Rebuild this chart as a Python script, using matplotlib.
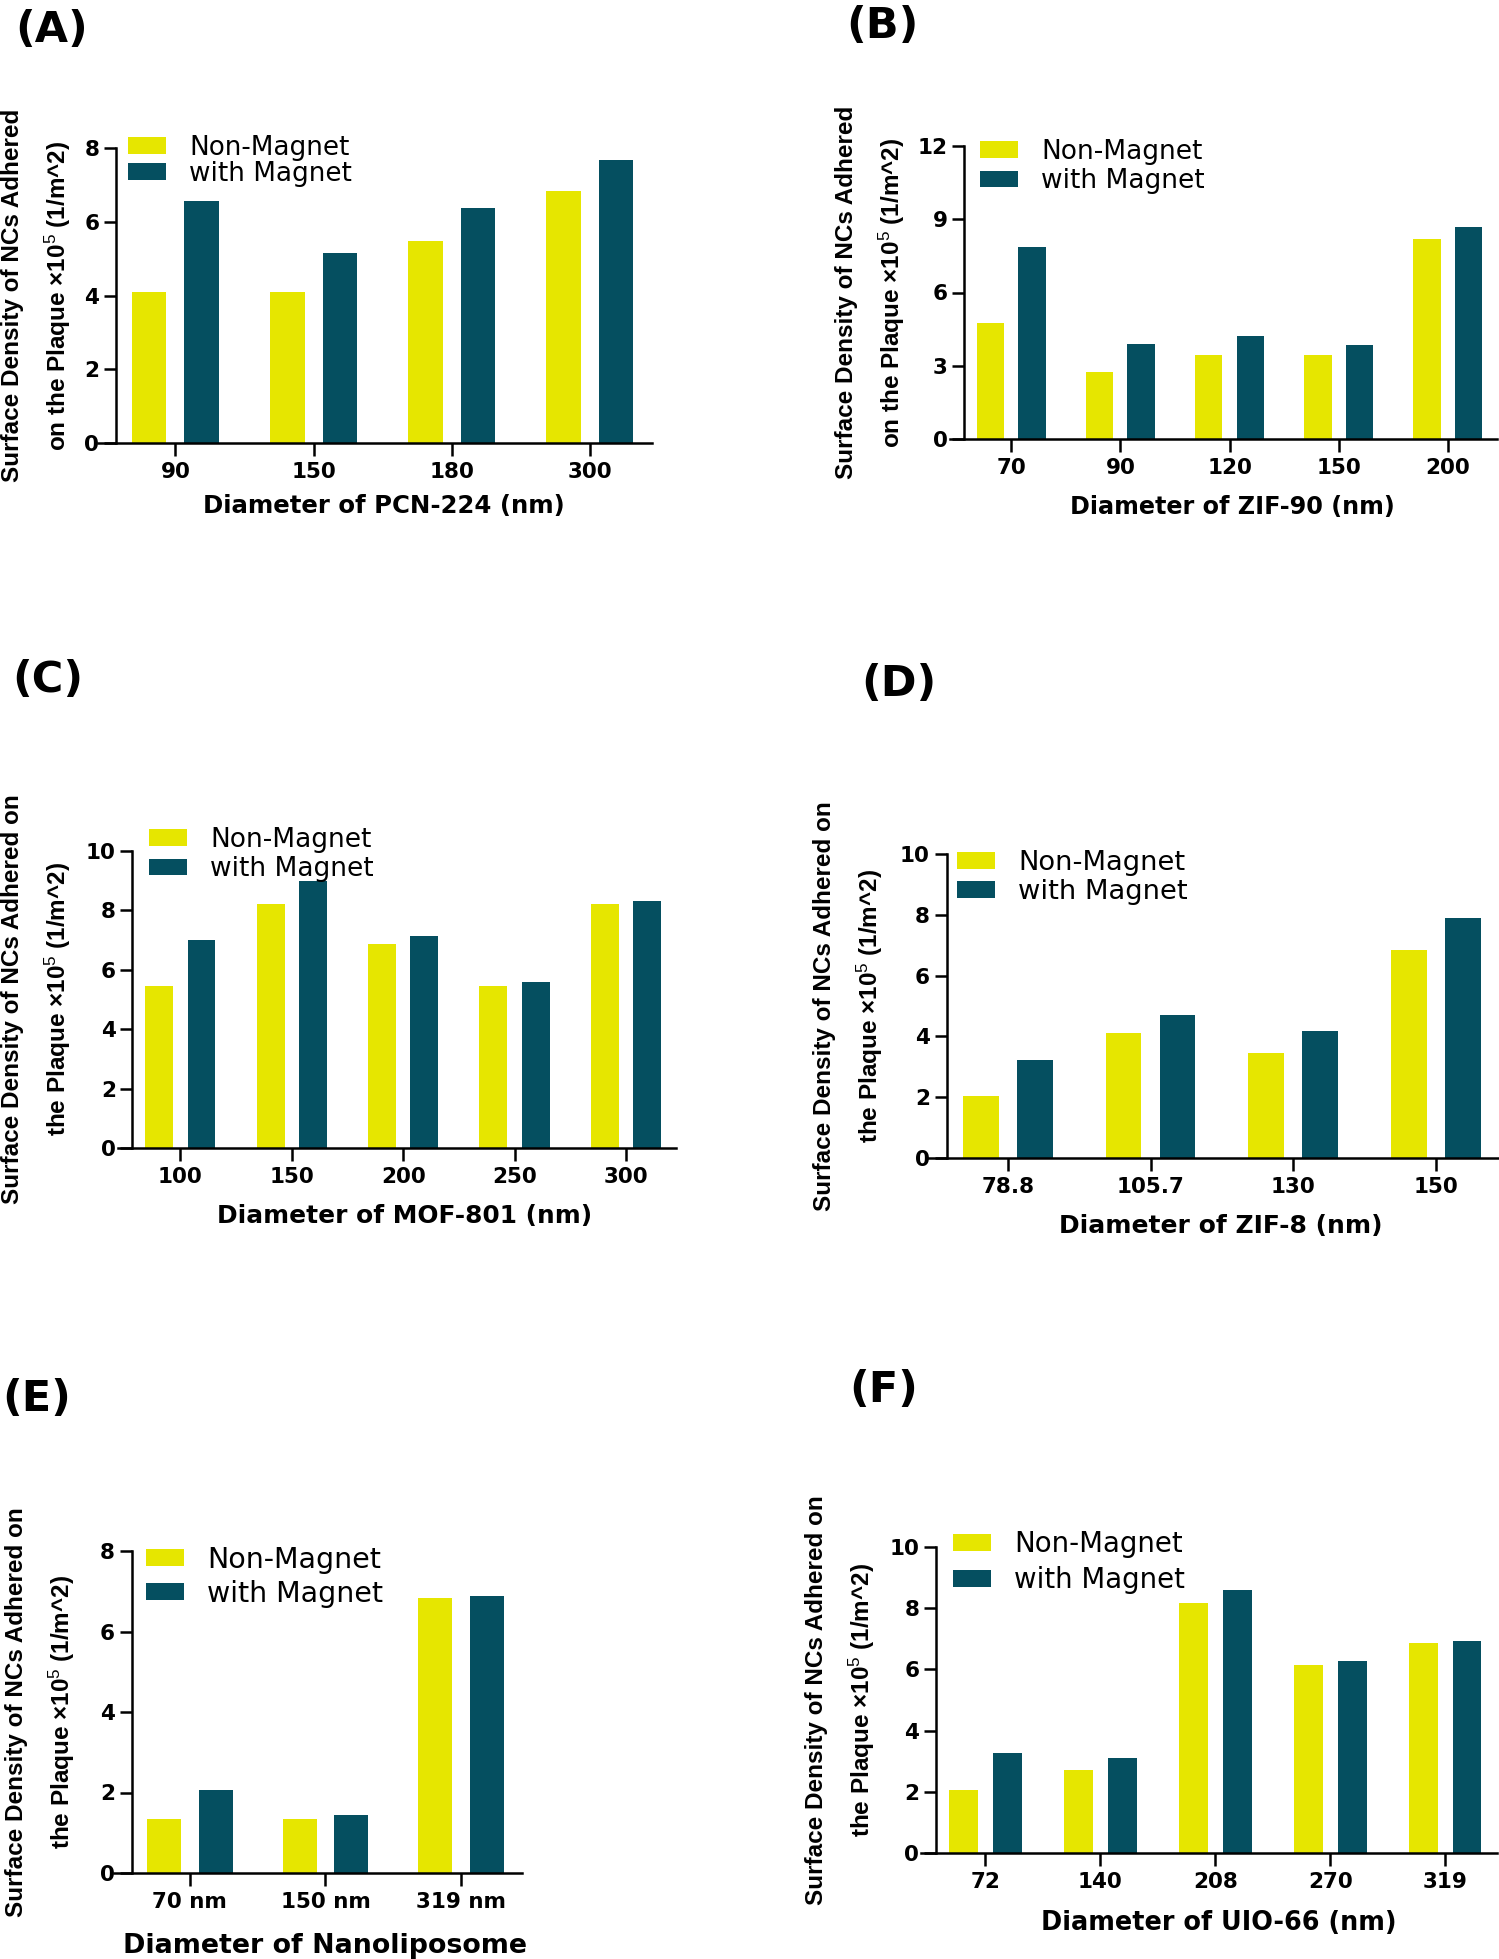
import matplotlib
matplotlib.use('Agg')
import matplotlib.pyplot as plt
import numpy as np

plt.rcParams['mathtext.fontset'] = 'custom'
plt.rcParams['mathtext.rm'] = 'Liberation Sans'
plt.rcParams['mathtext.default'] = 'rm'

W, H = 1499, 1959
YEL = '#e6e600'
TEAL = '#054f60'

# ---- data ----
a_labels = ['90', '150', '180', '300']
a_non = [4.10, 4.10, 5.47, 6.83]
a_mag = [6.57, 5.14, 6.36, 7.68]

b_labels = ['70', '90', '120', '150', '200']
b_non = [4.77, 2.73, 3.42, 3.42, 8.18]
b_mag = [7.88, 3.88, 4.20, 3.87, 8.68]

c_labels = ['100', '150', '200', '250', '300']
c_non = [5.46, 8.20, 6.86, 5.46, 8.20]
c_mag = [7.01, 8.99, 7.14, 5.59, 8.30]

d_labels = ['78.8', '105.7', '130', '150']
d_non = [2.04, 4.11, 3.45, 6.84]
d_mag = [3.23, 4.70, 4.18, 7.90]

e_labels = ['70 nm', '150 nm', '319 nm']
e_non = [1.33, 1.33, 6.82]
e_mag = [2.07, 1.45, 6.87]

f_labels = ['72', '140', '208', '270', '319']
f_non = [2.06, 2.71, 8.18, 6.16, 6.86]
f_mag = [3.27, 3.12, 8.59, 6.26, 6.92]

xlabels = ['Diameter of PCN-224 (nm)', 'Diameter of ZIF-90 (nm)',
           'Diameter of MOF-801 (nm)', 'Diameter of ZIF-8 (nm)',
           'Diameter of Nanoliposome', 'Diameter of UIO-66 (nm)']
ylab_two = 'Surface Density of NCs Adhered\non the Plaque \u00d710$^{5}$ (1/m^2)'
ylab_on = 'Surface Density of NCs Adhered on\nthe Plaque \u00d710$^{5}$ (1/m^2)'

panels = [
    # letter, cats, non, mag, ymax, ystep, ylabel
    ('(A)', a_labels, a_non, a_mag, 8, 2, ylab_two),
    ('(B)', b_labels, b_non, b_mag, 12, 3, ylab_two),
    ('(C)', c_labels, c_non, c_mag, 10, 2, ylab_on),
    ('(D)', d_labels, d_non, d_mag, 10, 2, ylab_on),
    ('(E)', e_labels, e_non, e_mag, 8, 2, ylab_on),
    ('(F)', f_labels, f_non, f_mag, 10, 2, ylab_on),
]

# layout in pixels: x-line left, x-line right, top, bottom
rects = [(98, 652, 148, 443), (950, 1497, 146, 439),
         (118, 676, 851, 1148), (928, 1500, 854, 1158),
         (114, 522, 1551, 1873), (921, 1497, 1547, 1853)]
letter_pos = [(15, 30), (846, 26), (12, 680), (861, 684), (2, 1399), (849, 1390)]
ylab_x = [37, 871, 37, 849, 41, 841]
# x label centre (px) and size
xlab_pos = [(384, 506, 17.6), (1232, 507, 17.2), (405, 1216, 17.9),
            (1221, 1226, 18.0), (325, 1946, 19.4), (1219, 1923, 18.4)]
# legend: patch left, patch top, labelspacing, fontsize
leg = [(128, 141, 0.0, 18.9), (980, 145, 0.12, 19), (149, 833, 0.12, 19),
       (957, 856, 0.12, 19.7), (146, 1552, 0.2, 20.5), (953, 1536, 0.3, 19.9)]

bw = 0.25
off = 0.19
lw = 1.8

fig = plt.figure(figsize=(W / 100, H / 100), dpi=100)

for i, (letter, cats, non, mag, ymax, ystep, ylab) in enumerate(panels):
    xl, xr, top, bot = rects[i]
    ax = fig.add_axes([xl / W, 1 - bot / H, (xr - xl) / W, (bot - top) / H])
    x = np.arange(len(cats))
    ax.bar(x - off, non, width=bw, color=YEL, label='Non-Magnet')
    ax.bar(x + off, mag, width=bw, color=TEAL, label='with Magnet')
    ax.set_xlim(-0.56, len(cats) - 1 + 0.45)
    ax.set_ylim(0, ymax)
    ax.set_yticks(np.arange(0, ymax + 1, ystep))
    ax.set_xticks(x)
    ax.set_xticklabels(cats)
    ax.spines['top'].set_visible(False)
    ax.spines['right'].set_visible(False)
    ax.spines['left'].set_position(('data', -0.43))
    ax.spines['left'].set_linewidth(lw)
    ax.spines['bottom'].set_linewidth(lw)
    ax.tick_params(axis='both', length=9, width=lw, labelsize=15.5)
    ax.tick_params(axis='x', pad=5)
    ax.tick_params(axis='y', pad=3)
    for t in ax.get_xticklabels() + ax.get_yticklabels():
        t.set_fontweight('bold')
        t.set_family('DejaVu Sans')

    lx, ly, ls, fs = leg[i]
    fpx = fs * 100 / 72
    ax.legend(loc='upper left', bbox_to_anchor=(lx / W, 1 - (ly - 6) / H),
              bbox_transform=fig.transFigure, frameon=False, borderpad=0,
              borderaxespad=0, handlelength=38 / fpx, handleheight=15.5 / fpx,
              handletextpad=23 / fpx, labelspacing=ls,
              prop={'family': 'DejaVu Sans', 'size': fs})

    cy = 1 - (top + bot) / 2 / H
    fig.text(ylab_x[i] / W, cy, ylab, rotation=90, ha='center', va='center',
             multialignment='center', fontsize=17.5, fontweight='bold',
             family='Liberation Sans', linespacing=1.85)
    xcx, xcy, xfs = xlab_pos[i]
    fig.text(xcx / W, 1 - xcy / H, xlabels[i], ha='center',
             va='center', fontsize=xfs, fontweight='bold', family='DejaVu Sans')
    px, py = letter_pos[i]
    fig.text(px / W, 1 - py / H, letter, ha='left', va='center', fontsize=31,
             fontweight='bold', family='DejaVu Sans')

fig.savefig('out.png', dpi=100)
